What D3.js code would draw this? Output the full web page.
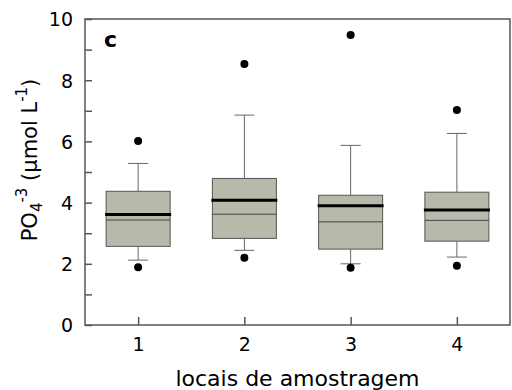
<!DOCTYPE html>
<html>
<head>
<meta charset="utf-8">
<script src="https://cdn.jsdelivr.net/npm/d3@7"></script>
<style>
  body { margin: 0; background: #fff; }
  svg text { font-family: "DejaVu Sans", Verdana, sans-serif; }
</style>
</head>
<body>
<div id="chart"></div>
<script>
// Box plot values
const sites = [1, 2, 3, 4];
const q1 = [2.57, 2.83, 2.48, 2.74];
const medians = [3.43, 3.62, 3.37, 3.42];
const q3 = [4.37, 4.79, 4.24, 4.34];
const means = [3.61, 4.08, 3.90, 3.76];
const whiskerLow = [2.12, 2.44, 2.00, 2.22];
const whiskerHigh = [5.28, 6.86, 5.87, 6.26];
const outlierLow = [1.89, 2.20, 1.87, 1.94];
const outlierHigh = [6.01, 8.53, 9.48, 7.03];
const yTicks = [0, 2, 4, 6, 8, 10];
const yMinorTicks = [1, 3, 5, 7, 9];

const width = 512, height = 390;
const margin = { top: 19, right: 2, bottom: 65, left: 85 };

const svg = d3.select('#chart').append('svg')
    .attr('width', width)
    .attr('height', height);

const x = d3.scaleLinear()
    .domain([0.5, 4.5])
    .range([margin.left, width - margin.right]);

const y = d3.scaleLinear()
    .domain([0, 10])
    .range([height - margin.bottom, margin.top]);

const boxW = 64, capW = 20;
const frame = '#555';

const data = sites.map((s, i) => ({
    site: s, q1: q1[i], med: medians[i], q3: q3[i], mean: means[i],
    lo: whiskerLow[i], hi: whiskerHigh[i], outs: [outlierLow[i], outlierHigh[i]]
}));

const g = svg.append('g');

// whiskers
data.forEach(d => {
    const cx = x(d.site);
    g.append('line').attr('x1', cx).attr('x2', cx).attr('y1', y(d.q3)).attr('y2', y(d.hi))
        .attr('stroke', '#666').attr('stroke-width', 1);
    g.append('line').attr('x1', cx).attr('x2', cx).attr('y1', y(d.q1)).attr('y2', y(d.lo))
        .attr('stroke', '#666').attr('stroke-width', 1);
    [d.hi, d.lo].forEach(v => {
        g.append('line').attr('x1', cx - capW / 2).attr('x2', cx + capW / 2)
            .attr('y1', y(v)).attr('y2', y(v))
            .attr('stroke', '#666').attr('stroke-width', 1);
    });
});

// boxes
g.selectAll('.box').data(data).enter().append('rect')
    .attr('class', 'box')
    .attr('x', d => x(d.site) - boxW / 2)
    .attr('width', boxW)
    .attr('y', d => y(d.q3))
    .attr('height', d => y(d.q1) - y(d.q3))
    .attr('fill', '#b8b8ab')
    .attr('stroke', '#555')
    .attr('stroke-width', 1);

// medians
g.selectAll('.median').data(data).enter().append('line')
    .attr('x1', d => x(d.site) - boxW / 2)
    .attr('x2', d => x(d.site) + boxW / 2)
    .attr('y1', d => y(d.med))
    .attr('y2', d => y(d.med))
    .attr('stroke', '#444')
    .attr('stroke-width', 1);

// means
g.selectAll('.mean').data(data).enter().append('line')
    .attr('x1', d => x(d.site) - boxW / 2 - 1)
    .attr('x2', d => x(d.site) + boxW / 2 + 1)
    .attr('y1', d => y(d.mean))
    .attr('y2', d => y(d.mean))
    .attr('stroke', '#000')
    .attr('stroke-width', 3);

// outliers
data.forEach(d => {
    g.selectAll(null).data(d.outs).enter().append('circle')
        .attr('cx', x(d.site))
        .attr('cy', v => y(v))
        .attr('r', 4)
        .attr('fill', '#000');
});

// frame
svg.append('rect')
    .attr('x', margin.left)
    .attr('y', margin.top)
    .attr('width', width - margin.right - margin.left)
    .attr('height', height - margin.bottom - margin.top)
    .attr('fill', 'none')
    .attr('stroke', frame)
    .attr('stroke-width', 1.5);

// axes with inward ticks
const yAxis = svg.append('g')
    .attr('transform', `translate(${margin.left},0)`)
    .call(d3.axisLeft(y).tickValues(yTicks).tickSize(-7).tickPadding(12).tickFormat(d3.format('d')));
yAxis.select('.domain').remove();
svg.append('g')
    .attr('transform', `translate(${margin.left},0)`)
    .call(d3.axisLeft(y).tickValues(yMinorTicks).tickSize(-7).tickFormat(''))
    .select('.domain').remove();

const xAxis = svg.append('g')
    .attr('transform', `translate(0,${height - margin.bottom})`)
    .call(d3.axisBottom(x).tickValues(sites).tickSize(-8).tickPadding(13).tickFormat(d3.format('d')));
xAxis.select('.domain').remove();

svg.selectAll('.tick line').attr('stroke', frame).attr('stroke-width', 1.5);
svg.selectAll('.tick text').attr('font-size', 19).attr('fill', '#000');
yAxis.selectAll('.tick text').attr('dy', '0.36em');

// panel label
svg.append('text')
    .attr('x', 104)
    .attr('y', 47)
    .attr('font-size', 22)
    .attr('font-weight', 'bold')
    .text('c');

// axis titles
svg.append('text')
    .attr('x', x(2.5))
    .attr('y', 386)
    .attr('text-anchor', 'middle')
    .attr('font-size', 22)
    .text('locais de amostragem');

const yt = svg.append('text')
    .attr('transform', 'translate(37,160) rotate(-90)')
    .attr('text-anchor', 'middle')
    .attr('font-size', 21);
yt.append('tspan').text('PO');
yt.append('tspan').attr('font-size', 15).attr('dy', 5).text('4');
yt.append('tspan').attr('font-size', 15).attr('dy', -15).text('-3');
yt.append('tspan').attr('dy', 10).text(' (µmol L');
yt.append('tspan').attr('font-size', 15).attr('dy', -10).text('-1');
yt.append('tspan').attr('dy', 10).text(')');
</script>
</body>
</html>
